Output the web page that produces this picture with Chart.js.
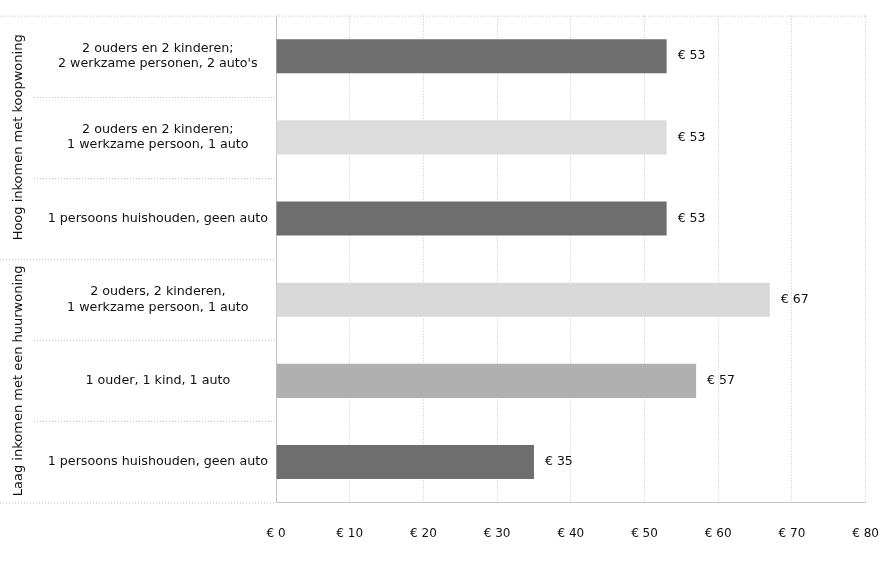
<!DOCTYPE html>
<html>
<head>
<meta charset="utf-8">
<script src="https://cdn.jsdelivr.net/npm/chart.js@4.4.1/dist/chart.umd.min.js"></script>
<style>
  html, body { margin: 0; padding: 0; background: #fff; }
  #wrap { width: 881px; height: 576px; }
</style>
</head>
<body>
<div id="wrap"><canvas id="kostenChart" width="881" height="576"></canvas></div>
<script>
// categorieën (meerregelig) en waarden
const categories = [
  ['2 ouders en 2 kinderen;', '2 werkzame personen, 2 auto\'s'],
  ['2 ouders en 2 kinderen;', '1 werkzame persoon, 1 auto'],
  '1 persoons huishouden, geen auto',
  ['2 ouders, 2 kinderen,', '1 werkzame persoon, 1 auto'],
  '1 ouder, 1 kind, 1 auto',
  '1 persoons huishouden, geen auto'
];
const values = [53, 53, 53, 67, 57, 35];
const groupNames = ['Hoog inkomen met koopwoning', 'Laag inkomen met een huurwoning'];
const groupSizes = [3, 3];
const xTicks = [0, 10, 20, 30, 40, 50, 60, 70, 80];

const barColors = ['#6e6e6e', '#dcdcdc', '#6e6e6e', '#d9d9d9', '#b0b0b0', '#6e6e6e'];
const FONT = "'DejaVu Sans', Verdana, sans-serif";
const lineColor = '#c4c4c4';

function dotted(ctx, x1, y1, x2, y2) {
  ctx.save();
  ctx.strokeStyle = lineColor;
  ctx.lineWidth = 1;
  ctx.setLineDash([1, 2]);
  ctx.beginPath();
  ctx.moveTo(x1, y1);
  ctx.lineTo(x2, y2);
  ctx.stroke();
  ctx.restore();
}

// scheidingslijnen en groepslabels links
const sidePlugin = {
  id: 'sidePlugin',
  afterDraw(chart) {
    const ctx = chart.ctx;
    const area = chart.chartArea;
    const y = chart.scales.y;
    const n = categories.length;
    const half = (y.getPixelForTick(1) - y.getPixelForTick(0)) / 2;
    dotted(ctx, 0, area.top + 0.5, area.right, area.top + 0.5);
    dotted(ctx, 0, area.bottom + 0.5, area.left, area.bottom + 0.5);
    let start = 0;
    groupSizes.forEach((size, g) => {
      for (let i = start; i < start + size - 1; i++) {
        const yy = Math.round(y.getPixelForTick(i) + half) + 0.5;
        dotted(ctx, 34, yy, area.left, yy);
      }
      const end = start + size - 1;
      if (end < n - 1) {
        const yy = Math.round(y.getPixelForTick(end) + half) + 0.5;
        dotted(ctx, 0, yy, area.left, yy);
      }
      const yc = (y.getPixelForTick(start) + y.getPixelForTick(end)) / 2;
      ctx.save();
      ctx.translate(19, yc);
      ctx.rotate(-Math.PI / 2);
      ctx.font = '13px ' + FONT;
      ctx.fillStyle = '#111';
      ctx.textAlign = 'center';
      ctx.textBaseline = 'middle';
      ctx.fillText(groupNames[g], 0, 0);
      ctx.restore();
      start += size;
    });

    // waardelabels
    const meta = chart.getDatasetMeta(0);
    ctx.save();
    ctx.font = '12.5px ' + FONT;
    ctx.fillStyle = '#111';
    ctx.textAlign = 'left';
    ctx.textBaseline = 'middle';
    meta.data.forEach((bar, i) => {
      ctx.fillText('€ ' + values[i], bar.x + 11, bar.y);
    });
    ctx.restore();
  }
};

new Chart(document.getElementById('kostenChart').getContext('2d'), {
  type: 'bar',
  data: {
    labels: categories,
    datasets: [{
      data: values,
      backgroundColor: barColors,
      borderWidth: 0,
      categoryPercentage: 1,
      barPercentage: 0.42
    }]
  },
  options: {
    indexAxis: 'y',
    responsive: false,
    animation: false,
    layout: { padding: { top: 15, left: 30, right: 0, bottom: 33 } },
    plugins: {
      legend: { display: false },
      tooltip: { enabled: false }
    },
    scales: {
      x: {
        min: 0,
        max: 80,
        afterBuildTicks: scale => { scale.ticks = xTicks.map(v => ({ value: v })); },
        grid: { color: lineColor, drawTicks: true, tickLength: 22, tickColor: 'rgba(0,0,0,0)' },
        border: { display: true, color: lineColor, dash: [1, 2] },
        ticks: {
          color: '#111',
          padding: 2,
          font: { family: FONT, size: 12 },
          callback: v => '€ ' + v
        }
      },
      y: {
        afterFit: scale => { scale.width = 246; },
        grid: { display: false, drawTicks: false },
        border: { display: true, color: lineColor },
        ticks: {
          color: '#111',
          crossAlign: 'center',
          padding: 8,
          font: { family: FONT, size: 12.7 }
        }
      }
    }
  },
  plugins: [sidePlugin]
});
</script>
</body>
</html>
